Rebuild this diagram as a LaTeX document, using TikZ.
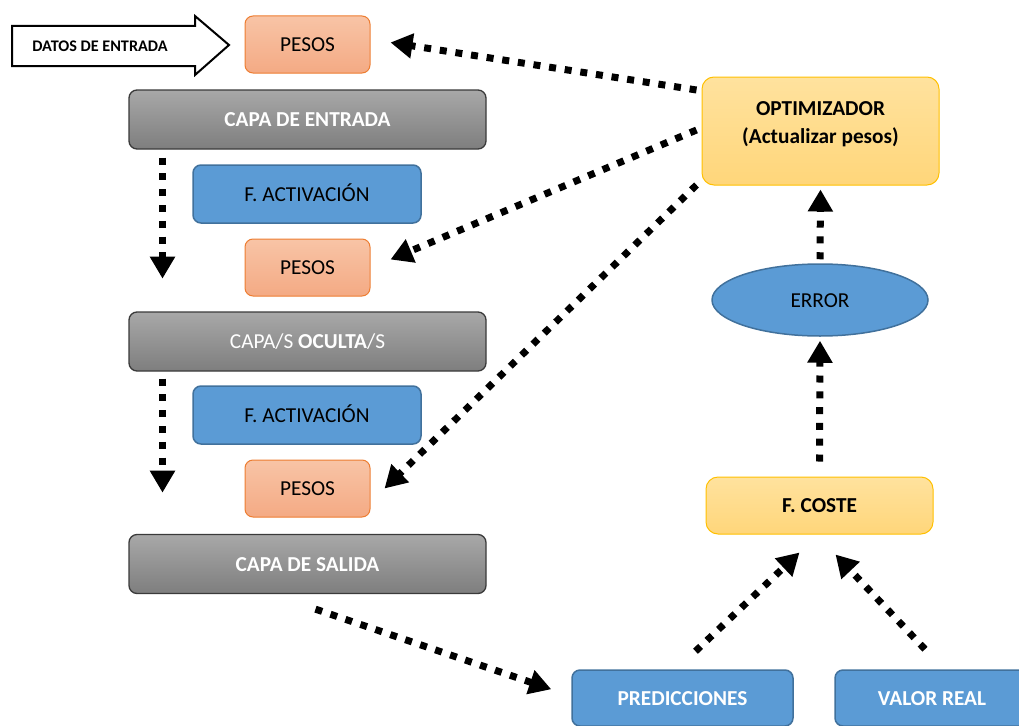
\documentclass[tikz,border=0pt]{standalone}
\usepackage{fontspec}
\setmainfont{Carlito}
\usetikzlibrary{arrows.meta,shapes.geometric,calc}
\definecolor{grayA}{HTML}{A8A8A8}
\definecolor{grayB}{HTML}{7E7E7E}
\definecolor{grayBorder}{HTML}{3A3A3A}
\definecolor{pesA}{HTML}{F8C4A6}
\definecolor{pesB}{HTML}{F4AA84}
\definecolor{pesBorder}{HTML}{ED7D31}
\definecolor{blueFill}{HTML}{5B9BD5}
\definecolor{blueBorder}{HTML}{41719C}
\definecolor{yelA}{HTML}{FFE29E}
\definecolor{yelB}{HTML}{FFD67A}
\definecolor{yelBorder}{HTML}{FFC000}
\tikzset{
  base/.style={inner sep=0pt, align=center, font=\fontsize{21.3}{28}\selectfont,
    text height=14.5pt, text depth=0pt},
  graybox/.style={base, rounded corners=8pt, draw=grayBorder, line width=1.3pt,
    top color=grayA, bottom color=grayB, text=white,
    minimum width=357pt, minimum height=59pt},
  pesbox/.style={base, rounded corners=8pt, draw=pesBorder, line width=1pt,
    top color=pesA, bottom color=pesB, text=black,
    minimum width=125pt, minimum height=57pt},
  actbox/.style={base, rounded corners=8pt, draw=blueBorder, line width=1.5pt,
    fill=blueFill, text=black, minimum width=228pt, minimum height=58pt},
  outbox/.style={base, rounded corners=8pt, draw=blueBorder, line width=1.5pt,
    fill=blueFill, text=white, font=\fontsize{21.3}{28}\selectfont\bfseries},
  yelbox/.style={base, rounded corners=12pt, draw=yelBorder, line width=1pt,
    top color=yelA, bottom color=yelB, text=black, font=\fontsize{21.3}{28}\selectfont\bfseries},
  flow/.style={line width=7pt, dash pattern=on 7pt off 8.8pt,
    -{Triangle[length=22pt,width=24pt]}},
}
\begin{document}
\begin{tikzpicture}[x=1pt,y=-1pt]
\useasboundingbox (0,0) rectangle (1019,725);

% input arrow
\draw[line width=2pt, fill=white] (12,26) -- (195,26) -- (195,16) -- (229,45) -- (195,75) -- (195,66) -- (12,66) -- cycle;
\node[inner sep=0pt, font=\fontsize{16.2}{18}\selectfont\bfseries] (datos) at (100,46) {DATOS DE ENTRADA};

% left column
\node[pesbox] (p1) at (307.5,44.5) {PESOS};
\node[graybox, font=\fontsize{21.3}{28}\selectfont\bfseries] (ce) at (307.5,119.5) {CAPA DE ENTRADA};
\node[actbox] (a1) at (307,194) {F. ACTIVACIÓN};
\node[pesbox] (p2) at (307.5,267.5) {PESOS};
\node[graybox] (co) at (307.5,341.5) {CAPA/S \textbf{OCULTA}/S};
\node[actbox] (a2) at (307,415) {F. ACTIVACIÓN};
\node[pesbox] (p3) at (307.5,488.5) {PESOS};
\node[graybox, font=\fontsize{21.3}{28}\selectfont\bfseries] (cs) at (307.5,564) {CAPA DE SALIDA};

% right column
\node[yelbox, minimum width=237pt, minimum height=108pt] (opt) at (820.5,131) {};
\node[inner sep=0pt, align=center, font=\fontsize{21.3}{28}\selectfont\bfseries] (optt) at (820.5,124) {OPTIMIZADOR\\(Actualizar pesos)};
\node[base, ellipse, draw=blueBorder, line width=1.5pt, fill=blueFill,
  minimum width=216pt, minimum height=72pt] (err) at (820,300) {ERROR};
\node[yelbox, minimum width=227pt, minimum height=57pt] (cost) at (819.5,505.5) {F. COSTE};
\node[outbox, minimum width=221pt, minimum height=56pt] (pred) at (682.5,698) {PREDICCIONES};
\node[outbox, minimum width=194pt, minimum height=56pt] (val) at (932,698) {VALOR REAL};

% connectors
\draw[flow] ([xshift=-5pt,yshift=41pt]opt.west) -- ([xshift=20pt,yshift=2pt]p1.east);
\draw[flow] ([xshift=-5pt,yshift=1pt]opt.west) -- ([xshift=20pt,yshift=8pt]p2.east);
\draw[flow] ([xshift=-5pt,yshift=-54pt]opt.west) -- ([xshift=14pt]p3.east);
\draw[flow] ([xshift=-145pt,yshift=-8pt]ce.south) -- ([xshift=-145pt,yshift=-129pt]ce.south);
\draw[flow] ([xshift=-145pt,yshift=-7pt]co.south) -- ([xshift=-145pt,yshift=-121pt]co.south);
\draw[flow] ([xshift=8pt,yshift=-15pt]cs.south) -- ([xshift=-20pt,yshift=-20pt]pred.north west);
\draw[flow] ([yshift=4pt]err.north) -- ([yshift=-4pt]opt.south);
\draw[flow] ([yshift=15pt]cost.north) -- ([yshift=-4pt]err.south);
\draw[flow] ([xshift=13pt,yshift=18pt]pred.north) -- ([xshift=-20pt,yshift=-18pt]cost.south);
\draw[flow] ([xshift=-7pt,yshift=20pt]val.north) -- ([xshift=16pt,yshift=-20pt]cost.south);
\end{tikzpicture}
\end{document}
